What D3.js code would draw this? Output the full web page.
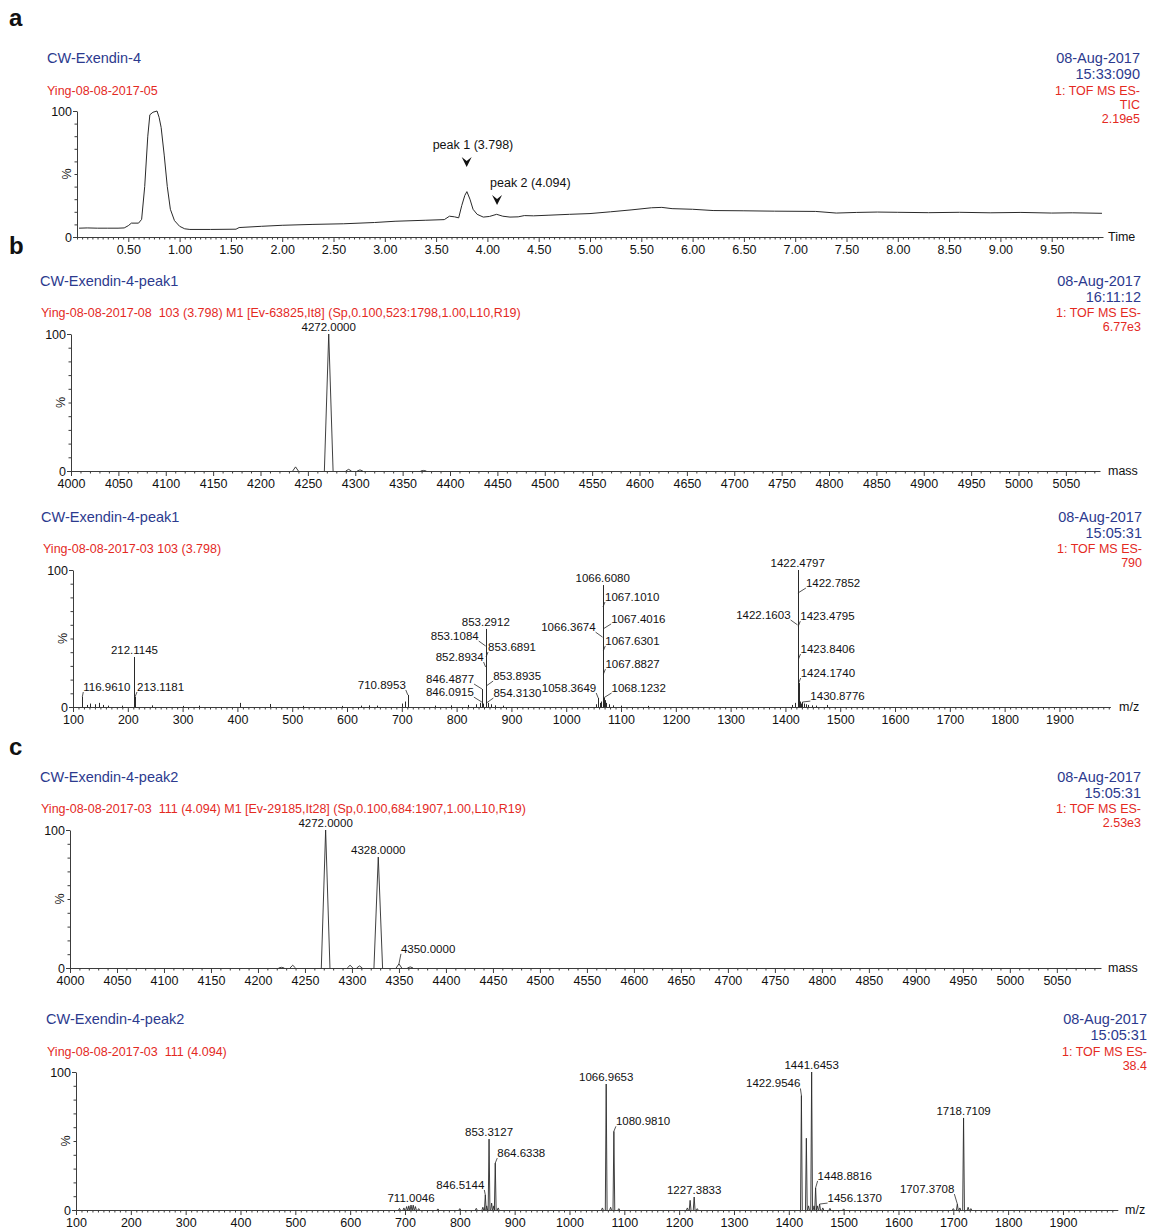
<!DOCTYPE html>
<html>
<head>
<meta charset="utf-8">
<script src="https://cdn.jsdelivr.net/npm/d3@7"></script>
<style>
  body { margin: 0; background: #fff; }
  svg text { font-family: "Liberation Sans", Arial, Helvetica, sans-serif; }
</style>
</head>
<body>
<script>
// ---------------- data ----------------

// a: total ion chromatogram (retention time in min, relative intensity %)
const ticTime = [0.02,0.1,0.2,0.3,0.4,0.46,0.5,0.53,0.6,0.63,0.66,0.69,0.71,0.74,0.78,0.8,0.82,0.85,0.88,0.91,0.95,1.0,1.05,1.1,1.3,1.55,1.58,1.8,2.0,2.3,2.6,2.9,3.1,3.4,3.58,3.63,3.68,3.72,3.75,3.78,3.8,3.83,3.86,3.9,3.96,4.02,4.09,4.15,4.22,4.3,4.36,4.45,4.6,4.8,5.0,5.2,5.4,5.6,5.7,5.8,6.0,6.2,6.5,6.8,7.2,7.4,7.6,7.8,8.0,8.3,8.6,8.9,9.2,9.5,9.7,9.99];
const ticPercent = [7,7.2,7,7,7,7.2,9,11,11,14,40,80,97,99,100,95,87,65,40,22,13,8.5,6.5,6,6,6.2,7.5,8.5,9.3,10,10.5,11.5,12.5,13.3,13.8,16.5,16,15.2,25,33,36,30,22,18,15.8,16.3,18,16.5,15.8,16,17,16.8,17.3,18,18.6,20,21.5,23.2,23.5,22.5,22,21,20.8,20.5,20.3,19,19.5,19.8,19.6,19.3,19.6,19.2,19.5,19,19.2,18.8];
const ticTickLabels = [0.5,1,1.5,2,2.5,3,3.5,4,4.5,5,5.5,6,6.5,7,7.5,8,8.5,9,9.5];
const ticMarkTime = [3.798, 4.094];
const ticMarkText = ["peak 1 (3.798)", "peak 2 (4.094)"];

const massTickLabels = [4000,4050,4100,4150,4200,4250,4300,4350,4400,4450,4500,4550,4600,4650,4700,4750,4800,4850,4900,4950,5000,5050];
const mzTickLabels = [100,200,300,400,500,600,700,800,900,1000,1100,1200,1300,1400,1500,1600,1700,1800,1900];

// b: deconvoluted mass spectrum of peak 1
const p1MassCenter = [4237, 4272, 4293, 4305, 4372];
const p1MassHeight = [3, 100, 1.2, 0.8, 0.4];
const p1MassLabeled = [4272];

// b: m/z spectrum of peak 1 (labelled ions)
const p1Mz = [116.9610,212.1145,213.1181,710.8953,846.0915,846.4877,852.8934,853.1084,853.2912,853.6891,853.8935,854.3130,1058.3649,1066.3674,1066.6080,1067.1010,1067.4016,1067.6301,1067.8827,1068.1232,1422.1603,1422.4797,1422.7852,1423.4795,1423.8406,1424.1740,1430.8776];
const p1MzInt = [7.3,36.5,7.3,8.8,3.6,13.1,29.2,44.5,57,36.5,15.3,2.9,6.6,51,89,73,57,40.9,24,6.6,59.9,100,83.2,59,35,17.5,3.6];
// b: m/z spectrum of peak 1 (minor, unlabelled ions)
const p1MinorMz = [125,131,140,148,155,163,190,245,300,330,405,460,520,590,625,640,655,700,705,760,790,820,835,843,849,858,862,870,885,1055,1062,1064,1070,1073,1078,1086,1100,1150,1412,1418,1426,1428,1433,1437,1441,1448,1455,1475];
const p1MinorInt = [1.5,2.5,2,3,1.5,1,1,1.2,0.8,1,3,2.2,0.8,0.8,1,1.2,1,2.5,4,1,1.2,1.5,2,3,2.5,3,2,1.2,1,2,3,4,5,3,2,1.2,1,0.8,1.5,3,4,2.5,2.5,2,1.5,1.2,1,1.5];

// c: deconvoluted mass spectrum of peak 2
const p2MassCenter = [4225, 4237, 4272, 4298, 4308, 4328, 4350, 4362];
const p2MassHeight = [0.5, 2, 100, 2, 1.5, 80.4, 3, 0.8];
const p2MassLabeled = [4272, 4328, 4350];

// c: m/z spectrum of peak 2 (labelled ions)
const p2Mz = [711.0046,846.5144,853.3127,864.6338,1066.9653,1080.9810,1227.3833,1422.9546,1441.6453,1448.8816,1456.1370,1707.3708,1718.7109];
const p2MzInt = [3.6,10.9,51.4,34,91.3,57,9.4,83,100,16,4.3,4.3,66.7];
// c: m/z spectrum of peak 2 (minor, unlabelled ions)
const p2MinorMz = [690,698,703,707,715,719,725,760,800,830,842,849,858,862,870,1060,1075,1090,1215,1220,1233,1432,1436,1446,1452,1462,1475,1500,1700,1712,1727,1732];
const p2MinorInt = [1.2,1.5,2.5,3,3.5,2.5,1,0.8,1,1.2,2,3,5,3,1.5,1.5,2,1,1.5,7,1,52,3,3,3,1.5,1.2,0.8,1,1.5,2,1];

// header texts
const ticHeader = { title: "CW-Exendin-4", sub: "Ying-08-08-2017-05", right: ["08-Aug-2017", "15:33:090", "1: TOF MS ES-", "TIC", "2.19e5"] };
const p1MassHeader = { title: "CW-Exendin-4-peak1", sub: "Ying-08-08-2017-08  103 (3.798) M1 [Ev-63825,It8] (Sp,0.100,523:1798,1.00,L10,R19)", right: ["08-Aug-2017", "16:11:12", "1: TOF MS ES-", "6.77e3"] };
const p1MzHeader = { title: "CW-Exendin-4-peak1", sub: "Ying-08-08-2017-03 103 (3.798)", right: ["08-Aug-2017", "15:05:31", "1: TOF MS ES-", "790"] };
const p2MassHeader = { title: "CW-Exendin-4-peak2", sub: "Ying-08-08-2017-03  111 (4.094) M1 [Ev-29185,It28] (Sp,0.100,684:1907,1.00,L10,R19)", right: ["08-Aug-2017", "15:05:31", "1: TOF MS ES-", "2.53e3"] };
const p2MzHeader = { title: "CW-Exendin-4-peak2", sub: "Ying-08-08-2017-03  111 (4.094)", right: ["08-Aug-2017", "15:05:31", "1: TOF MS ES-", "38.4"] };

// ---------------- layout ----------------
const BLUE = "#2c3a8e", RED = "#e42a1f", INK = "#2a2a2a", AXIS = "#3c3c3c";
const W = 1151, H = 1230;

const svg = d3.select("body").append("svg")
  .attr("width", W).attr("height", H)
  .attr("viewBox", `0 0 ${W} ${H}`);

// label offsets [dx, dy] relative to the apex of each labelled peak
const p1MzLabelPos = [[1,-6],[0,-3],[2,-6],[-2,-6],[-8,-6],[-8,-6],[-2,-6],[-7,-6],[0,-3],[2,-6],[7,-6],[7,-6],[-2,-6],[-7,-6],[0,-3],[2,-6],[8,-6],[2,-6],[2,-6],[8,-6],[-7,-6],[0,-3],[8,-6],[2,-6],[2,-6],[2,-6],[8,-2]];
const p2MzLabelPos = [[0,-3],[-1,-6],[0,-3],[2,-6],[0,-3],[2,-6],[0,-3],[-1,-8],[0,-3],[2,-8],[8,-2],[-3,-11],[0,-3]];
const p1MassLabelPos = [[0,-3]];
const p2MassLabelPos = [[0,-3],[0,-3],[2,-11]];

const frames = {
  tic:    { left: 77, right: 1103, base: 237, top: 111, domain: [0, 10], minor: 0.05, fmt: d3.format(".2f"), name: "Time", nameX: 1108,
            titleX: 47, titleY: 63, subX: 47, subY: 95, rightX: 1140, rightY: [63, 79, 95, 109, 123] },
  p1Mass: { left: 71, right: 1100, base: 471, top: 334, domain: [4000, 5086], minor: 10, fmt: d3.format("d"), name: "mass", nameX: 1108,
            titleX: 40, titleY: 286, subX: 41, subY: 317, rightX: 1141, rightY: [286, 302, 317, 331] },
  p1Mz:   { left: 73, right: 1110.4, base: 707, top: 570, domain: [100, 1993], minor: 10, fmt: d3.format("d"), name: "m/z", nameX: 1119,
            titleX: 41, titleY: 522, subX: 43, subY: 553, rightX: 1142, rightY: [522, 538, 553, 567] },
  p2Mass: { left: 70, right: 1101, base: 968, top: 830, domain: [4000, 5097], minor: 10, fmt: d3.format("d"), name: "mass", nameX: 1108,
            titleX: 40, titleY: 782, subX: 41, subY: 813, rightX: 1141, rightY: [782, 798, 813, 827] },
  p2Mz:   { left: 76, right: 1117.8, base: 1210, top: 1072, domain: [100, 2000], minor: 10, fmt: d3.format("d"), name: "m/z", nameX: 1125,
            titleX: 46, titleY: 1024, subX: 47, subY: 1056, rightX: 1147, rightY: [1024, 1040, 1056, 1070] }
};

const panelLetters = [["a", 9, 26], ["b", 9, 254], ["c", 9, 755]];
panelLetters.forEach(([t, x, y]) => {
  svg.append("text").attr("x", x).attr("y", y)
    .attr("font-size", 24).attr("font-weight", "bold").attr("fill", "#111").text(t);
});

const fmt4 = d3.format(".4f");

// draws header texts, axes, and returns the scales of a panel
function drawFrame(f, header, ticks) {
  const g = svg.append("g");
  const x = d3.scaleLinear().domain(f.domain).range([f.left, f.right]);
  const y = d3.scaleLinear().domain([0, 100]).range([f.base, f.top]);

  g.append("text").attr("x", f.titleX).attr("y", f.titleY)
    .attr("font-size", 14.5).attr("fill", BLUE).text(header.title);
  g.append("text").attr("x", f.subX).attr("y", f.subY)
    .attr("font-size", 12.5).attr("fill", RED).style("white-space", "pre").text(header.sub);

  header.right.forEach((t, i) => {
    g.append("text").attr("x", f.rightX).attr("y", f.rightY[i])
      .attr("text-anchor", "end")
      .attr("font-size", i < 2 ? 14.5 : 12.5)
      .attr("fill", i < 2 ? BLUE : RED)
      .text(t);
  });

  // x axis: labelled major ticks + minor ticks
  const minorX = d3.range(f.domain[0], f.domain[1], f.minor).filter(v => !ticks.some(t => Math.abs(t - v) < 1e-6));
  const gx = g.append("g").attr("transform", `translate(0,${f.base})`).attr("color", AXIS)
    .call(d3.axisBottom(x).tickValues(ticks).tickFormat(f.fmt).tickSize(5).tickSizeOuter(0));
  gx.selectAll("text").attr("font-size", 12.5).attr("fill", "#111").attr("font-family", null);
  g.append("g").attr("transform", `translate(0,${f.base})`).attr("color", AXIS)
    .call(d3.axisBottom(x).tickValues(minorX).tickFormat("").tickSize(2.5).tickSizeOuter(0))
    .select(".domain").remove();

  // y axis: 0 and 100 labelled, tenths as minor ticks
  const gy = g.append("g").attr("transform", `translate(${f.left},0)`).attr("color", AXIS)
    .call(d3.axisLeft(y).tickValues([0, 100]).tickSize(4).tickPadding(1).tickSizeOuter(0));
  gy.selectAll("text").attr("font-size", 12.5).attr("fill", "#111").attr("font-family", null);
  g.append("g").attr("transform", `translate(${f.left},0)`).attr("color", AXIS)
    .call(d3.axisLeft(y).tickValues(d3.range(10, 100, 10)).tickFormat("").tickSize(2.5).tickSizeOuter(0))
    .select(".domain").remove();

  g.append("text")
    .attr("transform", `translate(${f.left - 10},${(f.base + f.top) / 2}) rotate(-90)`)
    .attr("text-anchor", "middle").attr("dy", "0.35em")
    .attr("font-size", 12.5).attr("fill", "#111").text("%");

  g.append("text").attr("x", f.nameX).attr("y", f.base).attr("dy", "0.35em")
    .attr("font-size", 12.5).attr("fill", "#111").text(f.name);

  return { g, x, y };
}

// peak labels with short leader lines
function drawLabels(g, x, y, mzs, ints, pos, text) {
  mzs.forEach((m, i) => {
    const px = x(m), py = y(ints[i]);
    const [dx, dy] = pos[i];
    const anchor = dx > 0 ? "start" : dx < 0 ? "end" : "middle";
    if (dx !== 0) {
      g.append("line")
        .attr("x1", px).attr("y1", py)
        .attr("x2", px + dx).attr("y2", py + dy + 1)
        .attr("stroke", INK).attr("stroke-width", 0.8);
    }
    g.append("text").attr("x", px + dx).attr("y", py + dy)
      .attr("text-anchor", anchor).attr("font-size", 11.5).attr("fill", "#111")
      .text(text(m));
  });
}

// profile peaks drawn as narrow apex shapes
function drawProfilePeaks(g, x, y, centers, heights, halfWidth) {
  const line = d3.line().x(d => x(d[0])).y(d => y(d[1]));
  centers.forEach((c, i) => {
    const w = typeof halfWidth === "function" ? halfWidth(heights[i]) : halfWidth;
    g.append("path")
      .attr("d", line([[c - w, 0], [c, heights[i]], [c + w, 0]]))
      .attr("fill", "none").attr("stroke", INK).attr("stroke-width", 0.9)
      .attr("stroke-linejoin", "miter");
  });
}

// centroid sticks
function drawSticks(g, x, y, mzs, ints) {
  g.selectAll(null).data(mzs.map((m, i) => [m, ints[i]])).join("line")
    .attr("x1", d => Math.round(x(d[0])) + 0.5).attr("x2", d => Math.round(x(d[0])) + 0.5)
    .attr("y1", y(0)).attr("y2", d => y(d[1]))
    .attr("stroke", INK).attr("stroke-width", 1);
}

// ---------------- a: chromatogram ----------------
{
  const { g, x, y } = drawFrame(frames.tic, ticHeader, ticTickLabels);
  g.append("path")
    .attr("d", d3.line().x((d, i) => x(ticTime[i])).y((d, i) => y(ticPercent[i]))(ticTime))
    .attr("fill", "none").attr("stroke", INK).attr("stroke-width", 1);

  const markTipPct = [55.5, 25.4];
  const markTextDx = [-34, -7];
  ticMarkTime.forEach((t, i) => {
    const cx = x(t), tip = y(markTipPct[i]);
    g.append("path")
      .attr("d", `M${cx - 5},${tip - 10} L${cx},${tip - 6} L${cx + 5},${tip - 10} L${cx},${tip} Z`)
      .attr("fill", "#111");
    g.append("text").attr("x", cx + markTextDx[i]).attr("y", tip - 18)
      .attr("font-size", 12.5).attr("fill", "#111").text(ticMarkText[i]);
  });
}

// ---------------- b: peak 1 ----------------
{
  const { g, x, y } = drawFrame(frames.p1Mass, p1MassHeader, massTickLabels);
  drawProfilePeaks(g, x, y, p1MassCenter, p1MassHeight, h => (h > 50 ? 4.6 : 3));
  drawLabels(g, x, y, p1MassLabeled, p1MassLabeled.map(m => p1MassHeight[p1MassCenter.indexOf(m)]), p1MassLabelPos, fmt4);
}
{
  const { g, x, y } = drawFrame(frames.p1Mz, p1MzHeader, mzTickLabels);
  drawSticks(g, x, y, p1MinorMz, p1MinorInt);
  drawSticks(g, x, y, p1Mz, p1MzInt);
  drawLabels(g, x, y, p1Mz, p1MzInt, p1MzLabelPos, fmt4);
}

// ---------------- c: peak 2 ----------------
{
  const { g, x, y } = drawFrame(frames.p2Mass, p2MassHeader, massTickLabels);
  drawProfilePeaks(g, x, y, p2MassCenter, p2MassHeight, h => (h > 50 ? 4.6 : 3));
  drawLabels(g, x, y, p2MassLabeled, p2MassLabeled.map(m => p2MassHeight[p2MassCenter.indexOf(m)]), p2MassLabelPos, fmt4);
}
{
  const { g, x, y } = drawFrame(frames.p2Mz, p2MzHeader, mzTickLabels);
  drawProfilePeaks(g, x, y, p2MinorMz, p2MinorInt, 1.6);
  drawProfilePeaks(g, x, y, p2Mz, p2MzInt, 1.6);
  drawLabels(g, x, y, p2Mz, p2MzInt, p2MzLabelPos, fmt4);
}
</script>
</body>
</html>
